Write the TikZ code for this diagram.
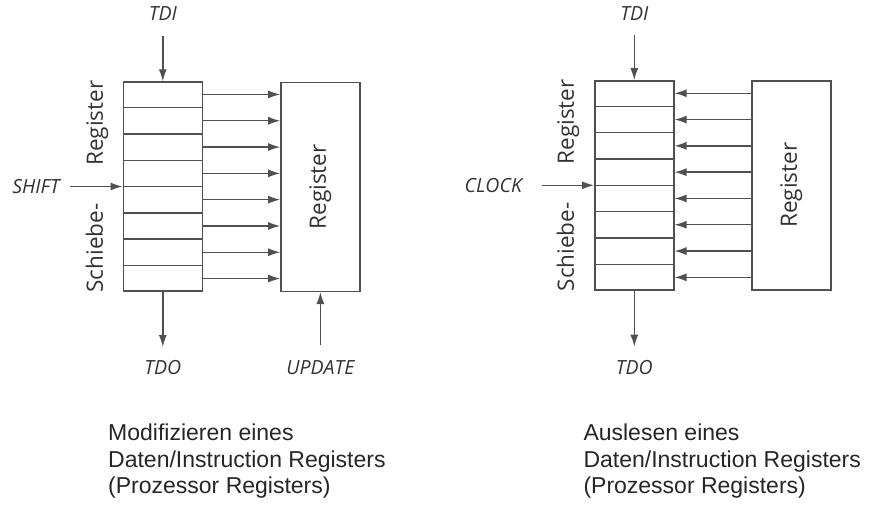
\documentclass[tikz,border=0pt]{standalone}
\usepackage{fontspec}
\setmainfont{Open Sans}
\newfontfamily\capfont{Liberation Sans}
\usetikzlibrary{arrows.meta,calc}
\definecolor{ln}{RGB}{80,80,80}
\definecolor{tx}{RGB}{50,50,50}
\begin{document}
\begin{tikzpicture}[x=1pt,y=-1pt,
  box/.style={draw=ln,line width=1.4pt,rectangle,minimum width=79pt,minimum height=209pt,inner sep=0pt},
  arr/.style={draw=ln,line width=1.4pt,-{Latex[length=12pt,width=8pt]}},
  sig/.style={font=\fontsize{19.5}{22}\selectfont\itshape,text=tx,inner sep=0pt},
  regtxt/.style={font=\fontsize{22.5}{26}\selectfont,text=tx,rotate=90,inner sep=0pt},
  captxt/.style={font=\capfont\fontsize{23}{26.3}\selectfont,text=black!85,align=left,anchor=north west,inner sep=0pt}]
\useasboundingbox (0,0) rectangle (879,509);
% ---------- left diagram ----------
\node[box] (sr) at (162.8,186.5) {};
\node[box] (reg) at (320.4,186.8) {};
\node[regtxt] (regl) at (reg.center) {Register};
\foreach \i in {1,...,7}{
  \draw[ln,line width=1.4pt] ($(sr.north west)!{\i/8}!(sr.south west)$) -- ($(sr.north east)!{\i/8}!(sr.south east)$);
}
\foreach \i in {1,...,8}{
  \coordinate (a\i) at ($(sr.north east)!{(\i-0.5)/8}!(sr.south east)$);
  \draw[arr] (a\i) -- (a\i -| reg.west);
}
\node[regtxt] (srtl) at (97,186.5) {Schiebe-\hspace{38pt}Register};
\node[sig] (tdil) at (162.8,14) {TDI};
\coordinate (tdils) at (162.8,36);
\draw[arr] (tdils) -- (sr.north);
\node[sig] (shift) at (36,186.5) {SHIFT};
\coordinate (shifte) at (70,186.5);
\draw[arr] (shifte) -- (sr.west);
\coordinate (tdole) at (162.8,347);
\draw[arr] (sr.south) -- (tdole);
\node[sig] (tdol) at (162.8,368) {TDO};
\coordinate (upds) at (320.4,345);
\draw[arr] (upds) -- (reg.south);
\node[sig] (upd) at (320.4,368) {UPDATE};
\node[captxt] (capl) at (108,424) {Modifizieren eines\\Daten/Instruction Registers\\(Prozessor Registers)};
% ---------- right diagram ----------
\node[box] (sr2) at (634.3,185.3) {};
\node[box] (reg2) at (791.3,185.3) {};
\node[regtxt] (regr) at (reg2.center) {Register};
\foreach \i in {1,...,7}{
  \draw[ln,line width=1.4pt] ($(sr2.north west)!{\i/8}!(sr2.south west)$) -- ($(sr2.north east)!{\i/8}!(sr2.south east)$);
}
\foreach \i in {1,...,8}{
  \coordinate (b\i) at ($(sr2.north east)!{(\i-0.5)/8}!(sr2.south east)$);
  \draw[arr] (b\i -| reg2.west) -- (b\i);
}
\node[regtxt] (srtr) at (568,185.3) {Schiebe-\hspace{38pt}Register};
\node[sig] (tdir) at (634.3,14) {TDI};
\coordinate (tdirs) at (634.3,35);
\draw[arr] (tdirs) -- (sr2.north);
\node[sig] (clock) at (493.3,185.3) {CLOCK};
\coordinate (clocke) at (541.7,185.3);
\draw[arr] (clocke) -- (sr2.west);
\coordinate (tdore) at (634.3,346.7);
\draw[arr] (sr2.south) -- (tdore);
\node[sig] (tdor) at (634.3,368) {TDO};
\node[captxt] (capr) at (583.3,424) {Auslesen eines\\Daten/Instruction Registers\\(Prozessor Registers)};
\end{tikzpicture}
\end{document}
